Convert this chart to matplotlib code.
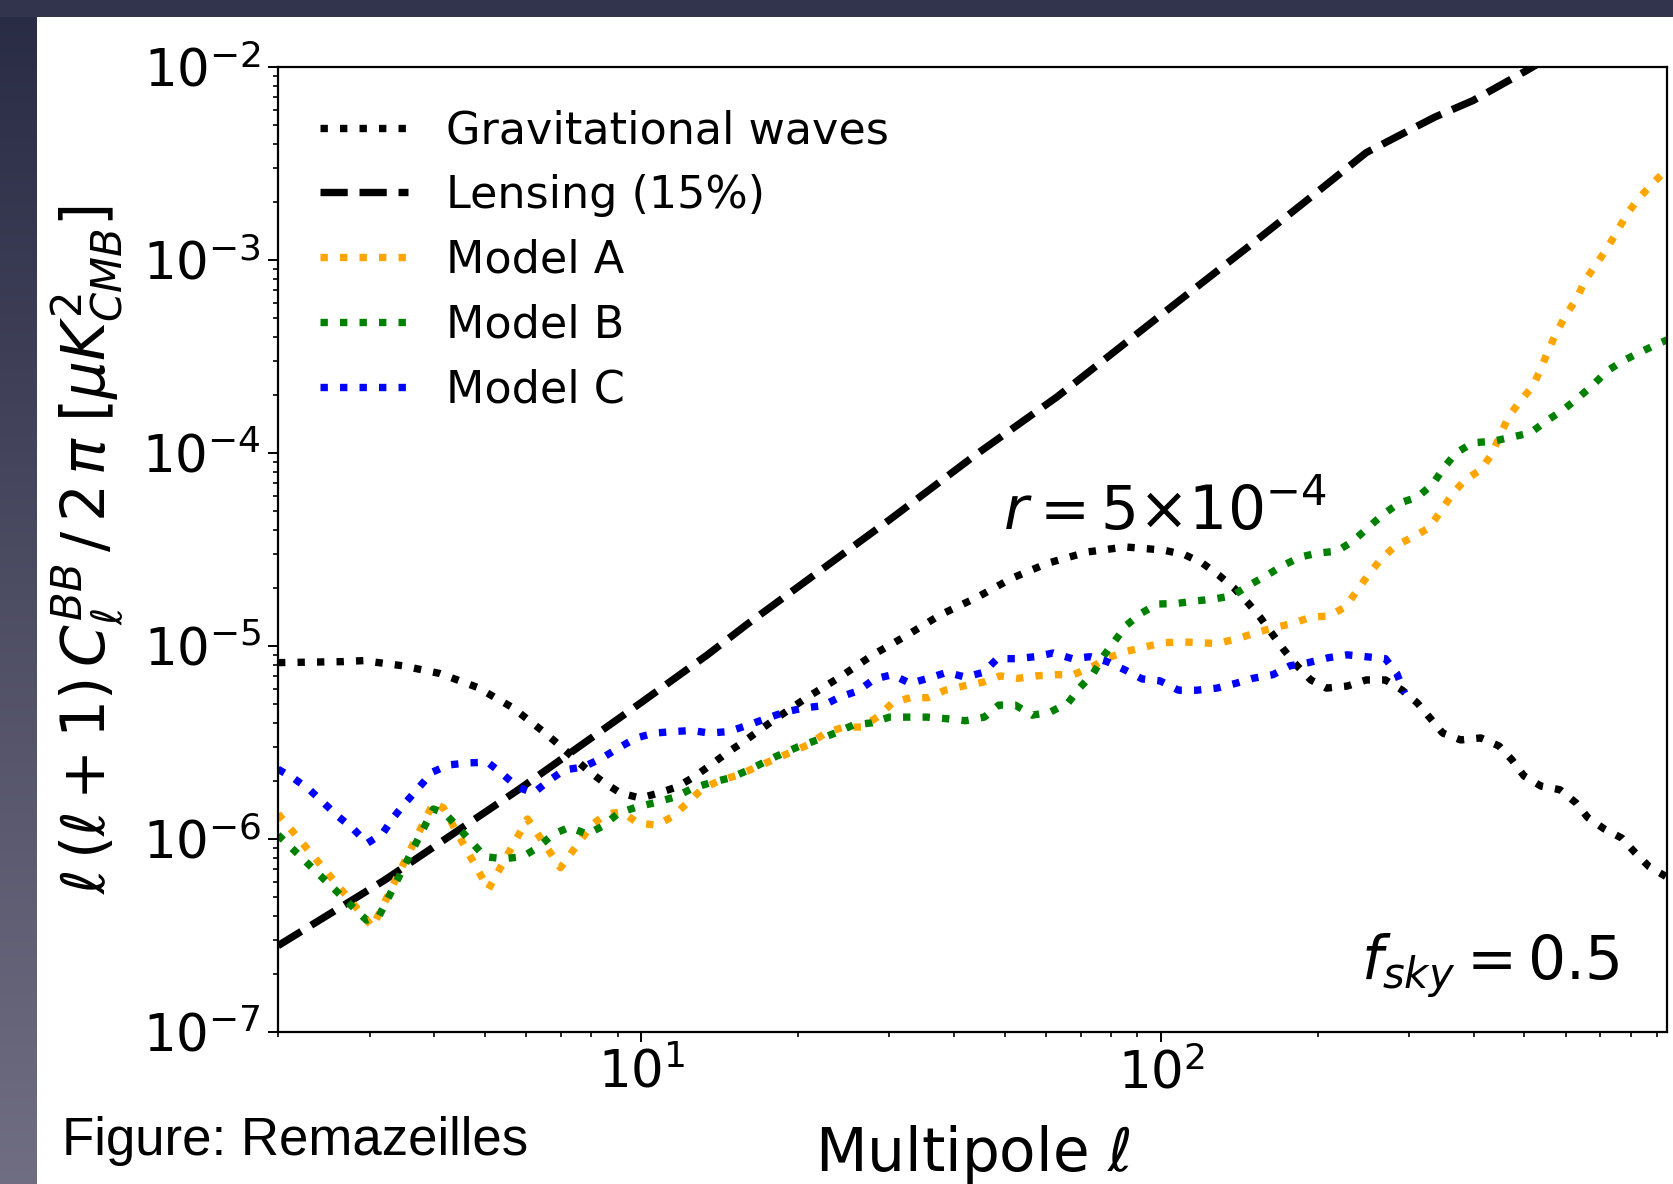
import numpy as np
import matplotlib
matplotlib.use('Agg')
import matplotlib.pyplot as plt
from matplotlib.patches import Rectangle

# primordial (tensor) BB spectrum, r = 5e-4
ell_gw = [2, 2.67, 2.92, 3.47, 4.1, 4.84, 5.65, 6.48, 6.92, 7.87, 8.45, 9.12, 9.96,
          10.8, 11.7, 12.6, 13.6, 14.6, 15.7, 17.9, 20.8, 24.1, 27.9, 32.5, 37.6,
          44.3, 51.7, 60.6, 72.1, 85.4, 101, 111, 120, 129, 138, 147, 155, 163,
          172, 182, 194, 208, 228, 248, 270, 291, 311, 329, 348, 377, 412, 447,
          473, 499, 538, 585, 628, 662, 711, 770, 816, 868, 935]
cl_gw = [8.2e-6, 8.3e-6, 8.4e-6, 7.9e-6, 7.2e-6, 6.1e-6, 4.8e-6, 3.6e-6, 3.1e-6,
         2.28e-6, 1.97e-6, 1.73e-6, 1.63e-6, 1.73e-6, 1.86e-6, 2.09e-6, 2.42e-6,
         2.79e-6, 3.18e-6, 4.1e-6, 5.4e-6, 6.9e-6, 9.0e-6, 1.14e-5, 1.45e-5,
         1.79e-5, 2.25e-5, 2.69e-5, 3.07e-5, 3.26e-5, 3.14e-5, 2.97e-5, 2.69e-5,
         2.33e-5, 2.0e-5, 1.67e-5, 1.41e-5, 1.17e-5, 9.6e-6, 7.97e-6, 6.67e-6,
         6.05e-6, 6.2e-6, 6.67e-6, 6.67e-6, 5.9e-6, 5.07e-6, 4.24e-6, 3.54e-6,
         3.26e-6, 3.34e-6, 3.03e-6, 2.57e-6, 2.12e-6, 1.88e-6, 1.80e-6, 1.54e-6,
         1.29e-6, 1.13e-6, 1.01e-6, 8.5e-7, 7.2e-7, 6.4e-7]

# residual lensing (15%)
ell_lens = [2, 3.2, 5.8, 10, 13.4, 16, 30, 44, 63, 107, 150, 189, 248, 300, 336,
            398, 505, 600]
cl_lens = [2.8e-7, 6.1e-7, 1.8e-6, 5.1e-6, 9.0e-6, 1.3e-5, 4.5e-5, 9.8e-5, 1.95e-4,
           6.0e-4, 1.22e-3, 2.0e-3, 3.6e-3, 4.7e-3, 5.5e-3, 6.7e-3, 9.6e-3, 1.26e-2]

# foreground residuals
ell_a = [2, 3.04, 3.98, 4.16, 5.08, 6.04, 6.99, 8.02, 8.57, 9.19, 9.84, 10.7, 11.5,
         13.1, 14.1, 15.4, 17.5, 20.9, 22.6, 24.5, 26.6, 28.6, 30.4, 32.9, 35.6,
         38.4, 41.6, 45.5, 49, 53.1, 57.3, 62.5, 67.8, 73.6, 79.1, 86.1, 93.2, 101,
         110, 128, 140, 152, 164, 179, 194, 210, 226, 238, 250, 264, 282, 305, 328,
         345, 363, 383, 412, 433, 449, 466, 489, 519, 538, 555, 575, 601, 631, 653,
         687, 721, 754, 787, 830, 883, 940]
cl_a = [1.35e-6, 3.5e-7, 1.54e-6, 1.45e-6, 5.5e-7, 1.27e-6, 7.1e-7, 1.18e-6,
        1.35e-6, 1.38e-6, 1.21e-6, 1.18e-6, 1.31e-6, 1.82e-6, 2.0e-6, 2.15e-6,
        2.5e-6, 3.07e-6, 3.54e-6, 3.8e-6, 3.8e-6, 4.33e-6, 5.07e-6, 5.4e-6, 5.4e-6,
        5.9e-6, 6.2e-6, 6.5e-6, 7.0e-6, 6.8e-6, 7.0e-6, 7.1e-6, 7.1e-6, 7.8e-6,
        8.7e-6, 9.4e-6, 9.9e-6, 1.04e-5, 1.05e-5, 1.03e-5, 1.09e-5, 1.17e-5,
        1.24e-5, 1.31e-5, 1.41e-5, 1.43e-5, 1.59e-5, 1.93e-5, 2.33e-5, 2.79e-5,
        3.3e-5, 3.67e-5, 4.1e-5, 5.0e-5, 6.1e-5, 7.2e-5, 8.2e-5, 9.9e-5, 1.24e-4,
        1.54e-4, 1.84e-4, 2.22e-4, 2.75e-4, 3.37e-4, 4.18e-4, 5.2e-4, 6.35e-4,
        7.8e-4, 9.5e-4, 1.15e-3, 1.41e-3, 1.73e-3, 2.09e-3, 2.5e-3, 2.95e-3]

ell_b = [2, 2.96, 3.13, 3.98, 4.19, 5.0, 5.43, 5.91, 6.31, 6.77, 7.27, 7.87, 8.45,
         9.03, 9.84, 10.6, 11.6, 12.6, 13.7, 14.8, 16.1, 18, 20, 21.8, 23.6, 25.6,
         27.8, 30, 35.4, 38.7, 42, 45.7, 48.7, 52.4, 56.5, 61.2, 66.2, 69.8, 74,
         77.3, 81.6, 85.7, 91.6, 98.3, 107, 116, 126, 137, 147, 159, 171, 185, 200,
         218, 234, 250, 267, 287, 311, 333, 350, 369, 398, 435, 473, 513, 552, 593,
         634, 677, 721, 773, 837, 907, 940]
cl_b = [1.05e-6, 3.8e-7, 4.0e-7, 1.43e-6, 1.36e-6, 8.1e-7, 7.9e-7, 8.1e-7, 9.0e-7,
        1.06e-6, 1.15e-6, 1.06e-6, 1.17e-6, 1.36e-6, 1.47e-6, 1.54e-6, 1.65e-6,
        1.84e-6, 1.97e-6, 2.07e-6, 2.28e-6, 2.65e-6, 3.0e-6, 3.26e-6, 3.54e-6,
        3.9e-6, 4.0e-6, 4.28e-6, 4.28e-6, 4.2e-6, 4.1e-6, 4.28e-6, 4.94e-6, 4.94e-6,
        4.38e-6, 4.55e-6, 5.07e-6, 6.1e-6, 7.2e-6, 8.8e-6, 1.07e-5, 1.28e-5,
        1.48e-5, 1.65e-5, 1.66e-5, 1.71e-5, 1.75e-5, 1.82e-5, 2.05e-5, 2.31e-5,
        2.6e-5, 2.89e-5, 3.03e-5, 3.1e-5, 3.5e-5, 4.1e-5, 4.8e-5, 5.5e-5, 5.9e-5,
        6.9e-5, 8.4e-5, 1.0e-4, 1.13e-4, 1.15e-4, 1.21e-4, 1.27e-4, 1.47e-4,
        1.67e-4, 1.93e-4, 2.25e-4, 2.66e-4, 3.0e-4, 3.34e-4, 3.7e-4, 3.85e-4]

ell_c = [2, 2.14, 2.3, 2.46, 2.61, 2.79, 2.97, 3.18, 3.34, 3.53, 3.74, 3.96, 4.26,
         4.65, 5.06, 5.43, 5.78, 6.2, 6.63, 7.11, 7.73, 8.41, 9.03, 9.78, 10.6,
         11.5, 12.5, 13.5, 14.7, 16.1, 17.5, 18.9, 20.6, 22.3, 24.1, 26.1, 28.1,
         30.4, 32.9, 35.6, 38.7, 42, 45.5, 48.4, 52.4, 57.3, 62, 67.4, 73, 78.7,
         85.3, 91.9, 99.5, 108, 117, 128, 139, 150, 164, 177, 192, 210, 228, 248,
         270, 284, 294]
cl_c = [2.3e-6, 2.07e-6, 1.8e-6, 1.52e-6, 1.31e-6, 1.13e-6, 9.5e-7, 1.07e-6, 1.3e-6,
        1.56e-6, 1.86e-6, 2.22e-6, 2.42e-6, 2.48e-6, 2.5e-6, 2.15e-6, 1.86e-6,
        1.73e-6, 2.0e-6, 2.28e-6, 2.36e-6, 2.63e-6, 2.96e-6, 3.34e-6, 3.54e-6,
        3.6e-6, 3.65e-6, 3.54e-6, 3.6e-6, 3.9e-6, 4.24e-6, 4.55e-6, 4.78e-6, 4.9e-6,
        5.44e-6, 5.85e-6, 6.75e-6, 7.1e-6, 6.4e-6, 6.8e-6, 7.3e-6, 6.9e-6, 7.3e-6,
        8.6e-6, 8.6e-6, 8.8e-6, 9.2e-6, 8.6e-6, 8.8e-6, 8.3e-6, 7.5e-6, 6.75e-6,
        6.6e-6, 5.9e-6, 5.9e-6, 6.05e-6, 6.4e-6, 6.8e-6, 7.1e-6, 7.9e-6, 8.2e-6,
        8.7e-6, 9.0e-6, 8.8e-6, 8.6e-6, 7.2e-6, 5.7e-6]

W, H = 1674, 1184
fig = plt.figure(figsize=(W / 100, H / 100), dpi=100, facecolor='white')

# slide frame: dark strip on the left and along the top
band = fig.add_axes([0, 0, 37 / W, 1])
band.axis('off')
top_col = np.array([0.16, 0.17, 0.27])
bot_col = np.array([0.44, 0.43, 0.51])
t = np.linspace(0, 1, 256)[:, None, None]
band.imshow(top_col + (bot_col - top_col) * t, aspect='auto', extent=[0, 1, 0, 1])
fig.patches.append(Rectangle((0, 1 - 17 / H), 1, 17 / H, transform=fig.transFigure,
                             facecolor='#32334c', edgecolor='none'))

ax = fig.add_axes([278 / W, 1 - 1032 / H, (1667 - 278) / W, (1032 - 67) / H])
lw = 5.3
ax.plot(ell_gw, cl_gw, ':', color='k', lw=lw, label='Gravitational waves')
ax.plot(ell_lens, cl_lens, '--', color='k', lw=lw, label='Lensing (15%)')
ax.plot(ell_a, cl_a, ':', color='orange', lw=lw, label='Model A')
ax.plot(ell_b, cl_b, ':', color='green', lw=lw, label='Model B')
ax.plot(ell_c, cl_c, ':', color='blue', lw=lw, label='Model C')

ax.set_xscale('log')
ax.set_yscale('log')
ax.set_xlim(2, 940)
ax.set_ylim(1e-7, 1e-2)

for s in ax.spines.values():
    s.set_linewidth(1.6)
ax.tick_params(which='major', length=7, width=1.4, labelsize=37, pad=5)
ax.tick_params(which='minor', length=3.8, width=1.2)

ax.set_xlabel(r'Multipole $\ell$', fontsize=43, labelpad=17)
ax.set_ylabel(r'$\ell\,(\ell+1)\,C_\ell^{BB}\,/\,2\,\pi\;[\mu K^2_{CMB}]$',
              fontsize=43, labelpad=12)

ax.text(49.7, 4.0e-5, r'$r = 5{\times}10^{-4}$', fontsize=43, ha='left', va='baseline')
ax.text(0.966, 0.054, r'$f_{sky} = 0.5$', fontsize=43, ha='right', va='baseline',
        transform=ax.transAxes)

ax.legend(loc='upper left', frameon=False, fontsize=32, handlelength=1.98,
          handletextpad=0.85, labelspacing=0.49, borderaxespad=0.55)

fig.text(62 / W, 1 - 1155 / H, 'Figure: Remazeilles', fontsize=38,
         family='Liberation Sans', ha='left', va='baseline')

fig.savefig('out.png', dpi=100)
